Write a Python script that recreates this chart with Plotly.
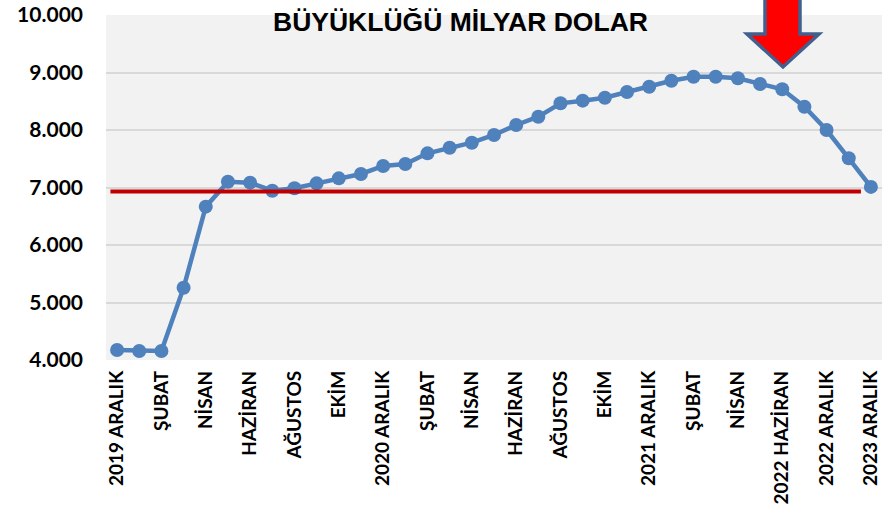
import plotly.graph_objects as go

# ---- data ----
values = [4174, 4157, 4157, 5257, 6667, 7101, 7084, 6944, 6986, 7072,
          7159, 7235, 7374, 7409, 7594, 7690, 7779, 7913, 8087, 8231,
          8464, 8510, 8562, 8661, 8753, 8857, 8927, 8927, 8899, 8800,
          8708, 8405, 8000, 7508, 7010]
tick_labels = ["2019 ARALIK", "ŞUBAT", "NİSAN", "HAZİRAN", "AĞUSTOS", "EKİM",
               "2020 ARALIK", "ŞUBAT", "NİSAN", "HAZİRAN", "AĞUSTOS", "EKİM",
               "2021 ARALIK", "ŞUBAT", "NİSAN", "2022 HAZİRAN", "2022 ARALIK",
               "2023 ARALIK"]
y_ticks = [4000, 5000, 6000, 7000, 8000, 9000, 10000]
reference_level = 6930
title_text = "BÜYÜKLÜĞÜ MİLYAR DOLAR"

x_idx = list(range(len(values)))
tick_pos = list(range(0, len(values), 2))

W, H = 895, 506
L, R, T, B = 106, 13, 15, 146
plot_h = H - T - B
plot_w = W - L - R


def px(x):
    return (x - L) / plot_w


def py(y):
    return (H - B - y) / plot_h


fig = go.Figure()
fig.add_trace(go.Scatter(
    x=x_idx, y=values, mode="lines+markers",
    line=dict(color="#4F81BD", width=4.5),
    marker=dict(color="#4F81BD", size=14),
    hoverinfo="skip", showlegend=False,
))

# reference red line
fig.add_shape(type="line", xref="x", yref="y",
              x0=-0.3, x1=33.55, y0=reference_level, y1=reference_level,
              line=dict(color="#C00000", width=4), layer="above")

# down arrow
pts = [(765, -8), (765, 34), (747, 34), (783, 67), (819, 34), (800, 34), (800, -8)]
path = "M " + " L ".join(f"{px(a):.5f},{py(b):.5f}" for a, b in pts) + " Z"
fig.add_shape(type="path", xref="paper", yref="paper", path=path,
              fillcolor="#FF0000", line=dict(color="#41608F", width=3.5),
              layer="above")

fig.add_annotation(x=px(460.5), y=py(22), xref="paper", yref="paper",
                   text=title_text, showarrow=False,
                   xanchor="center", yanchor="middle",
                   font=dict(family="Liberation Sans", size=26.5, color="#000000",
                             weight="bold"))

fig.update_layout(
    width=W, height=H,
    margin=dict(l=L, r=R, t=T, b=B, pad=0, autoexpand=False),
    paper_bgcolor="#FFFFFF", plot_bgcolor="#F2F2F2",
    separators=",.",
    xaxis=dict(range=[-0.5, len(values) - 0.5], tickmode="array",
               tickvals=tick_pos, ticktext=tick_labels, tickangle=-90,
               showgrid=False, zeroline=False, showline=False, ticks="",
               ticklabelstandoff=6, automargin=False,
               tickfont=dict(family="Lato", size=19, color="#000000", weight="bold")),
    yaxis=dict(range=[4000, 10000], tickmode="array", tickvals=y_ticks,
               tickformat=",.0f", showgrid=True, gridcolor="#D9D9D9", gridwidth=1.5,
               zeroline=False, showline=False, ticks="",
               ticklabelstandoff=22, automargin=False,
               tickfont=dict(family="Lato", size=21, color="#000000", weight="bold")),
)

fig.write_html("out.html", config={"displayModeBar": False},
               post_script="document.body.style.margin='0px';document.body.style.overflow='hidden';")
